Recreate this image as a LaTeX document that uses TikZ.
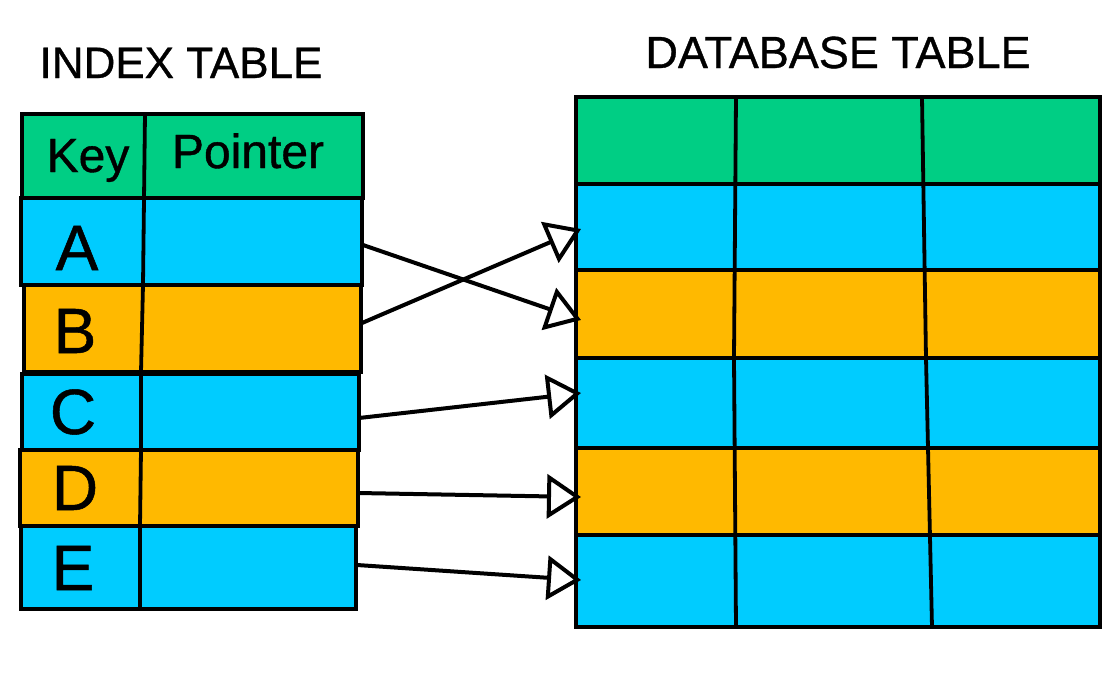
\documentclass[tikz,border=0pt]{standalone}
\usepackage{fontspec}
\setmainfont{Liberation Sans}[FakeBold=1.5, AutoFakeBold=1.5]
\newfontfamily\heavyfont{Liberation Sans}[FakeBold=0.8]
\usetikzlibrary{arrows.meta}
\definecolor{hdrgreen}{RGB}{0,206,132}
\definecolor{rowblue}{RGB}{0,204,255}
\definecolor{roworange}{RGB}{255,185,0}
\tikzset{
  cell/.style={draw=black, line width=3.8pt, line join=miter},
  divider/.style={draw=black, line width=3.8pt},
  ptr/.style={draw=black, line width=4pt, -{Triangle[length=34pt,width=44pt,fill=white,line width=4pt]}},
  title/.style={font=\heavyfont\fontsize{44}{44}\selectfont, anchor=base},
  hdrtxt/.style={font=\heavyfont\fontsize{48}{48}\selectfont, anchor=base},
  keytxt/.style={font=\heavyfont\fontsize{64}{64}\selectfont, anchor=base}
}
\begin{document}
\begin{tikzpicture}[x=1pt,y=-1pt]
\useasboundingbox (0,0) rectangle (1120,675);
% titles
\node[title] (t1) at (181,78) {INDEX TABLE};
\node[title, font=\heavyfont\fontsize{45}{45}\selectfont] (t2) at (838,68) {DATABASE TABLE};
% index table rows
\path[cell, fill=hdrgreen] (22,114) rectangle (363,198);
\path[cell, fill=rowblue] (21,198) rectangle (362,285);
\path[cell, fill=roworange] (24,285) rectangle (361,372);
\path[cell, fill=rowblue] (22,374) rectangle (359,450);
\path[cell, fill=roworange] (20,450) rectangle (358,526);
\path[cell, fill=rowblue] (21,526) rectangle (356,609);
\draw[divider] (145,114) -- (143,285) -- (141,372) -- (141,450) -- (140,526) -- (140,609);
% index texts
\node[hdrtxt] (key) at (88,172) {Key};
\node[hdrtxt] (ptrh) at (248,168) {Pointer};
\node[keytxt] (ka) at (77,270) {A};
\node[keytxt] (kb) at (75,353) {B};
\node[keytxt] (kc) at (73,434) {C};
\node[keytxt] (kd) at (75,510) {D};
\node[keytxt] (ke) at (73,590) {E};
% database table
\fill[hdrgreen] (576,97) rectangle (1100,184);
\fill[rowblue] (576,184) rectangle (1100,270);
\fill[roworange] (576,270) rectangle (1100,358);
\fill[rowblue] (576,358) rectangle (1100,448);
\fill[roworange] (576,448) rectangle (1100,535);
\fill[rowblue] (576,535) rectangle (1100,627);
\draw[divider] (576,184) -- (1100,184);
\draw[divider] (576,270) -- (1100,270);
\draw[divider] (576,358) -- (1100,358);
\draw[divider] (576,448) -- (1100,448);
\draw[divider] (576,535) -- (1100,535);
\draw[divider] (736,97) -- (734,358) -- (736,627);
\draw[divider] (922,97) -- (926,358) -- (932,627);
\draw[cell] (576,97) rectangle (1100,627);
% connector ends
\coordinate (sa) at (363,245);
\coordinate (sb) at (362,323);
\coordinate (sc) at (359,418);
\coordinate (sd) at (358,493);
\coordinate (se) at (357,565);
\coordinate (d1) at (581,229);
\coordinate (d2) at (581,320);
\coordinate (d3) at (581,393);
\coordinate (d4) at (581,497);
\coordinate (d5) at (581,580);
\draw[ptr] (sa) -- (d2);
\draw[ptr] (sb) -- (d1);
\draw[ptr] (sc) -- (d3);
\draw[ptr] (sd) -- (d4);
\draw[ptr] (se) -- (d5);
\end{tikzpicture}
\end{document}
